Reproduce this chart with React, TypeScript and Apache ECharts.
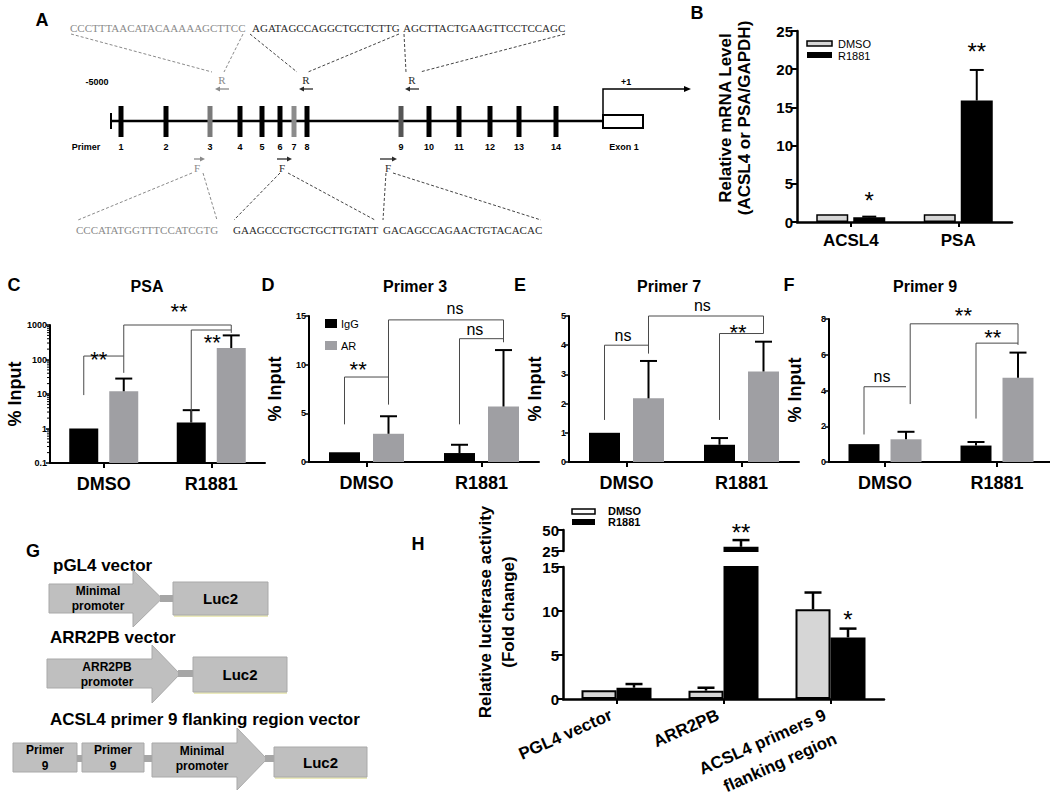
import React, { useEffect, useRef } from "react";
import * as echarts from "echarts";

const SANS = '"Liberation Sans", Arial, Helvetica, sans-serif';
const SERIF = '"Liberation Serif", "Times New Roman", serif';
const AR_GREY = "#9f9fa3";
const DMSO_GREY = "#d6d6d6";

// ---------------- Panel A (schematic) ----------------
const primerLabels = ["1", "2", "3", "4", "5", "6", "7", "8", "9", "10", "11", "12", "13", "14"];
const reverseSeqs = ["CCCTTTAACATACAAAAAGCTTCC", "AGATAGCCAGGCTGCTCTTG", "AGCTTACTGAAGTTCCTCCAGC"];
const forwardSeqs = ["CCCATATGGTTTCCATCGTG", "GAAGCCCTGCTGCTTGTATT", "GACAGCCAGAACTGTACACAC"];

// ---------------- Panel B ----------------
const bCategories = ["ACSL4", "PSA"];
const bDmso = [1.0, 1.0];
const bR1881 = [0.62, 15.9];
const bR1881Sd = [0.08, 4.0];
const bStarTexts = ["*", "**"];
const bStarY = [2.75, 22.3];

// ---------------- Panels C-F (ChIP) ----------------
const chipCategories = ["DMSO", "R1881"];
const cTickLabels = ["0.1", "1", "10", "100", "1000"];

const cIgG = [1.0, 1.5];
const cIgGSd = [0, 1.9];
const cAR = [12, 215];
const cARSd = [16, 285];

const dIgG = [1.0, 0.92];
const dIgGSd = [0, 0.85];
const dAR = [2.9, 5.7];
const dARSd = [1.8, 5.8];

const eIgG = [1.0, 0.59];
const eIgGSd = [0, 0.23];
const eAR = [2.18, 3.1];
const eARSd = [1.28, 1.02];

const fIgG = [1.0, 0.92];
const fIgGSd = [0, 0.2];
const fAR = [1.27, 4.72];
const fARSd = [0.42, 1.4];

// brackets: [catA, barA, footA, catB, barB, footB, top]
const cBrackets = [
  [0, 0, 9.3, 0, 1, 126, 126],
  [0, 1, 41, 1, 1, 590, 1000],
  [1, 0, 1.45, 1, 1, 716, 716],
];
const cMarks = [[0, 0.375, 100], [0.7, 0.5, 2450], [1, 0.525, 309]];
const cMarkTexts = ["**", "**", "**"];

const dBrackets = [
  [0, 0, 3.87, 0, 1, 5.92, 8.73],
  [0, 1, 5.92, 1, 1, 12.3, 14.6],
  [1, 0, 3.87, 1, 1, 12.67, 12.67],
];
const dMarks = [[0, 0.31, 9.5], [0.77, 0.5, 15.8], [1, 0.35, 13.6]];
const dMarkTexts = ["**", "ns", "ns"];

const eBrackets = [
  [0, 0, 1.44, 0, 1, 3.72, 4.0],
  [0, 1, 3.72, 1, 1, 4.4, 5.0],
  [1, 0, 1.44, 1, 1, 4.4, 4.4],
];
const eMarks = [[0, 0.42, 4.33], [0.66, 0.5, 5.36], [1, 0.42, 4.43]];
const eMarkTexts = ["ns", "ns", "**"];

const fBrackets = [
  [0, 0, 1.54, 0, 1, 4.21, 4.21],
  [0, 1.1, 3.24, 1, 1, 6.55, 7.73],
  [1, 0, 2.43, 1, 1, 6.65, 6.65],
];
const fMarks = [[0, 0.43, 4.8], [0.7, 0.5, 8.17], [1, 0.4, 6.99]];
const fMarkTexts = ["ns", "**", "**"];

// ---------------- Panel H ----------------
const hCategories = ["PGL4 vector", "ARR2PB", "ACSL4 primers 9\nflanking region"];
const hDmso = [1.0, 0.95, 10.2];
const hDmsoSd = [0, 0.33, 1.9];
const hR1881 = [1.28, 30, 7.0];
const hR1881Sd = [0.42, 8, 1.0];
const hLowerMarks = [[2, 1, 9.0]];
const hLowerMarkTexts = ["*"];
const hUpperMarks = [[1, 1, 46.9]];
const hUpperMarkTexts = ["**"];

// ---------------- helpers ----------------
function barSeries(ax: number, name: string, data: any[], color: string, w: number, gap: number, border = 0) {
  return {
    type: "bar",
    name,
    xAxisIndex: ax,
    yAxisIndex: ax,
    data,
    barWidth: w,
    barGap: `${(gap / w) * 100}%`,
    itemStyle: { color, borderColor: "#000", borderWidth: border },
    silent: true,
    z: 2,
  };
}

function errSeries(ax: number, items: number[][], w: number, gap: number, capW: number, lw: number) {
  return {
    type: "custom",
    xAxisIndex: ax,
    yAxisIndex: ax,
    silent: true,
    z: 3,
    encode: { x: 0, y: 2 },
    data: items,
    renderItem: (params: any, api: any) => {
      const c = api.value(0);
      const b = api.value(1);
      const p0 = api.coord([c, api.value(2)]);
      const p1 = api.coord([c, api.value(3)]);
      const x = p0[0] + (b - 0.5) * (w + gap);
      const st = { stroke: "#000", lineWidth: lw };
      return {
        type: "group",
        children: [
          { type: "line", shape: { x1: x, y1: p0[1], x2: x, y2: p1[1] }, style: st },
          { type: "line", shape: { x1: x - capW / 2, y1: p1[1], x2: x + capW / 2, y2: p1[1] }, style: st },
        ],
      };
    },
  };
}

function bracketSeries(ax: number, items: number[][], w: number, gap: number) {
  return {
    type: "custom",
    xAxisIndex: ax,
    yAxisIndex: ax,
    silent: true,
    z: 4,
    encode: { x: 0, y: 2 },
    data: items,
    renderItem: (params: any, api: any) => {
      const x0 = api.coord([0, 0])[0];
      const x1 = api.coord([1, 0])[0];
      const band = x1 - x0;
      const X = (c: number, b: number) => x0 + c * band + (b - 0.5) * (w + gap);
      const Y = (v: number) => api.coord([0, v])[1];
      const xa = X(api.value(0), api.value(1));
      const xb = X(api.value(3), api.value(4));
      const ya = Y(api.value(2));
      const yb = Y(api.value(5));
      const yt = Y(api.value(6));
      return {
        type: "polyline",
        shape: { points: [[xa, ya], [xa, yt], [xb, yt], [xb, yb]] },
        style: { stroke: "#4a4a4a", lineWidth: 1, fill: "none" },
      };
    },
  };
}

function markSeries(ax: number, items: number[][], texts: string[], w: number, gap: number, starSize: number) {
  return {
    type: "custom",
    xAxisIndex: ax,
    yAxisIndex: ax,
    silent: true,
    z: 5,
    encode: { x: 0, y: 2 },
    data: items,
    renderItem: (params: any, api: any) => {
      const x0 = api.coord([0, 0])[0];
      const x1 = api.coord([1, 0])[0];
      const band = x1 - x0;
      const x = x0 + api.value(0) * band + (api.value(1) - 0.5) * (w + gap);
      const y = api.coord([0, api.value(2)])[1];
      const text = texts[params.dataIndex];
      const star = text.indexOf("*") >= 0;
      return {
        type: "text",
        x,
        y,
        style: {
          text,
          fill: "#000",
          fontFamily: SANS,
          fontSize: star ? starSize : 16,
          fontWeight: "normal",
          align: "center",
          verticalAlign: "middle",
        },
      };
    },
  };
}

function logMinorTickSeries(ax: number, tf: (v: number) => number) {
  const vals: number[][] = [];
  [0.1, 1, 10, 100].forEach((dec) => {
    for (let m = 2; m <= 9; m++) vals.push([0, tf(m * dec)]);
  });
  return {
    type: "custom",
    xAxisIndex: ax,
    yAxisIndex: ax,
    silent: true,
    z: 3,
    data: vals,
    renderItem: (params: any, api: any) => {
      const y = api.coord([0, api.value(1)])[1];
      const gx = params.coordSys.x;
      return { type: "line", shape: { x1: gx - 3, y1: y, x2: gx, y2: y }, style: { stroke: "#000", lineWidth: 1 } };
    },
  };
}

function chipSeries(
  ax: number,
  igg: number[], iggSd: number[], ar: number[], arSd: number[],
  brackets: number[][], marks: number[][], markTexts: string[],
  w: number, gap: number, tf: (v: number) => number = (v) => v
) {
  const errs: number[][] = [];
  igg.forEach((v, i) => { if (iggSd[i] > 0) errs.push([i, 0, tf(v), tf(v + iggSd[i])]); });
  ar.forEach((v, i) => { if (arSd[i] > 0) errs.push([i, 1, tf(v), tf(v + arSd[i])]); });
  return [
    barSeries(ax, "IgG", igg.map(tf), "#000", w, gap),
    barSeries(ax, "AR", ar.map(tf), AR_GREY, w, gap),
    errSeries(ax, errs, w, gap, 17, 2),
    bracketSeries(ax, brackets.map((b) => [b[0], b[1], tf(b[2]), b[3], b[4], tf(b[5]), tf(b[6])]), w, gap),
    markSeries(ax, marks.map((m) => [m[0], m[1], tf(m[2])]), markTexts, w, gap, 22),
  ];
}

function catAxis(gi: number, data: any[], fontSize: number, margin: number, extra: any = {}) {
  return {
    type: "category",
    gridIndex: gi,
    data,
    axisLine: { show: true, onZero: false, lineStyle: { color: "#000", width: 2 } },
    axisTick: { show: true, alignWithLabel: true, length: 5, lineStyle: { color: "#000", width: 2 } },
    axisLabel: { color: "#000", fontFamily: SANS, fontWeight: "bold", fontSize, margin, interval: 0 },
    splitLine: { show: false },
    ...extra,
  };
}

function valAxis(gi: number, min: number, max: number, interval: number, fontSize: number, lw: number, extra: any = {}) {
  return {
    type: "value",
    gridIndex: gi,
    min,
    max,
    interval,
    axisLine: { show: true, lineStyle: { color: "#000", width: lw } },
    axisTick: { show: true, length: 4, lineStyle: { color: "#000", width: 1.5 } },
    axisLabel: { color: "#000", fontFamily: SANS, fontWeight: "bold", fontSize, margin: 3 },
    splitLine: { show: false },
    ...extra,
  };
}

// graphic primitives
const T = (x: number, y: number, text: string, o: any = {}) => ({
  type: "text",
  x,
  y,
  rotation: o.rot || 0,
  silent: true,
  style: {
    text,
    fill: o.fill || "#000",
    fontFamily: o.family || SANS,
    fontSize: o.size || 12,
    fontWeight: o.weight || "normal",
    align: o.align || "center",
    verticalAlign: "middle",
    lineHeight: o.lh,
  },
});
const L = (x1: number, y1: number, x2: number, y2: number, stroke = "#000", lw = 1, dash?: number[]) => ({
  type: "line",
  silent: true,
  shape: { x1, y1, x2, y2 },
  style: { stroke, lineWidth: lw, lineDash: dash },
});
const Rc = (x: number, y: number, w: number, h: number, fill: string, stroke?: string, lw = 0) => ({
  type: "rect",
  silent: true,
  shape: { x, y, width: w, height: h },
  style: { fill, stroke, lineWidth: lw },
});
const Pg = (points: number[][], fill: string, stroke?: string, lw = 0) => ({
  type: "polygon",
  silent: true,
  shape: { points },
  style: { fill, stroke, lineWidth: lw },
});
const smallArrow = (xFrom: number, xTo: number, y: number, color: string) => {
  const d = Math.sign(xTo - xFrom);
  return [
    L(xFrom, y, xTo - d * 3, y, color, 1.3),
    Pg([[xTo, y], [xTo - d * 5, y - 2.5], [xTo - d * 5, y + 2.5]], color),
  ];
};
const bigArrow = (x0: number, xh: number, xt: number, yTop: number, yBot: number, hTop: number, hBot: number) =>
  Pg(
    [[x0, yTop], [xh, yTop], [xh, hTop], [xt, (hTop + hBot) / 2], [xh, hBot], [xh, yBot], [x0, yBot]],
    "#bfbfbf",
    "#a9a9a9",
    1
  );
const lucBox = (x: number, y: number, w: number, h: number) => [
  L(x + 1, y + h + 1, x + w, y + h + 1, "#e4e3a6", 1.5),
  Rc(x, y, w, h, "#bfbfbf", "#a9a9a9", 1),
  T(x + w / 2, y + h / 2, "Luc2", { size: 15, weight: "bold" }),
];

function panelAGraphics() {
  const els: any[] = [];
  const primerX = [121, 166, 210, 240, 262, 280, 294, 307, 401, 429, 459, 490, 519, 556];
  const tones = ["#000", "#000", "#7a7a7a", "#000", "#000", "#000", "#8c8c8c", "#000", "#555", "#000", "#000", "#000", "#000", "#000"];
  const grey = "#8a8a8a";
  const dark = "#2a2a2a";
  els.push(T(42, 20, "A", { size: 18, weight: "bold" }));
  const topX = [70, 252, 403];
  const topC = [grey, dark, dark];
  reverseSeqs.forEach((s, i) => els.push(T(topX[i], 28, s, { family: SERIF, size: 11, align: "left", fill: topC[i] })));
  const dashT = [
    [71, 212, grey], [243, 224, grey],
    [250, 297, "#444"], [399, 308, "#444"],
    [404, 406, "#444"], [565, 420, "#444"],
  ];
  dashT.forEach((d: any) => els.push(L(d[0], 34, d[1], 72, d[2], 1, [3, 2])));
  const rX = [222, 306, 412];
  rX.forEach((x, i) => {
    els.push(T(x, 80, "R", { family: SERIF, size: 11, fill: i === 0 ? grey : dark }));
    els.push(...smallArrow(x + 7, x - 7, 89, i === 0 ? grey : dark));
  });
  els.push(T(97, 82, "-5000", { size: 9, weight: "bold" }));
  els.push(T(626, 82, "+1", { size: 9, weight: "bold" }));
  els.push(L(111, 121, 603, 121, "#000", 2.5));
  els.push(L(111, 113, 111, 129, "#000", 2));
  primerX.forEach((x, i) => {
    els.push(Rc(x - 2.5, 106, 5, 31, tones[i]));
    els.push(T(x, 147, primerLabels[i], { size: 9, weight: "bold" }));
  });
  els.push(T(86, 147, "Primer", { size: 9, weight: "bold" }));
  els.push(T(624, 147, "Exon 1", { size: 9, weight: "bold" }));
  els.push(Rc(603, 115, 40, 13, "#fff", "#000", 2));
  els.push({
    type: "polyline",
    silent: true,
    shape: { points: [[603, 115], [603, 89], [684, 89]] },
    style: { stroke: "#000", lineWidth: 1.5, fill: "none" },
  });
  els.push(Pg([[691, 89], [684, 86], [684, 92]], "#000"));
  const fArrows = [[194, 205], [277, 292], [380, 397]];
  const fX = [197, 282, 388];
  fArrows.forEach((a, i) => {
    els.push(...smallArrow(a[0], a[1], 159, i === 0 ? grey : dark));
    els.push(T(fX[i], 168, "F", { family: SERIF, size: 11, fill: i === 0 ? grey : dark }));
  });
  const dashB = [
    [192, 78, grey], [203, 217, grey],
    [280, 234, "#444"], [288, 375, "#444"],
    [386, 383, "#444"], [393, 541, "#444"],
  ];
  dashB.forEach((d: any) => els.push(L(d[0], 173, d[1], 220, d[2], 1, [3, 2])));
  const botX = [76, 233, 383];
  const botC = [grey, dark, dark];
  forwardSeqs.forEach((s, i) => els.push(T(botX[i], 230, s, { family: SERIF, size: 11, align: "left", fill: botC[i] })));
  return els;
}

function panelGGraphics() {
  const els: any[] = [];
  els.push(T(33, 551, "G", { size: 18, weight: "bold" }));
  els.push(T(53, 565, "pGL4 vector", { size: 17, weight: "bold", align: "left" }));
  els.push(bigArrow(49, 133, 162, 584, 613, 570, 627));
  els.push(T(98, 598, "Minimal\npromoter", { size: 12, weight: "bold", lh: 15 }));
  els.push(Rc(160, 595, 14, 7, "#a6a6a6"));
  els.push(...lucBox(173, 582, 95, 33));

  els.push(T(50, 637, "ARR2PB vector", { size: 17, weight: "bold", align: "left" }));
  els.push(bigArrow(47, 152, 180, 659, 688, 645, 703));
  els.push(T(107, 674, "ARR2PB\npromoter", { size: 12, weight: "bold", lh: 15 }));
  els.push(Rc(178, 670, 16, 7, "#a6a6a6"));
  els.push(...lucBox(193, 657, 94, 35));

  els.push(T(50, 719, "ACSL4 primer 9 flanking region vector", { size: 17, weight: "bold", align: "left" }));
  els.push(Rc(13, 743, 64, 29, "#bfbfbf", "#a9a9a9", 1));
  els.push(T(45, 758, "Primer\n9", { size: 12, weight: "bold", lh: 16 }));
  els.push(Rc(77, 755, 6, 7, "#a6a6a6"));
  els.push(Rc(82, 743, 62, 29, "#bfbfbf", "#a9a9a9", 1));
  els.push(T(113, 758, "Primer\n9", { size: 12, weight: "bold", lh: 16 }));
  els.push(Rc(144, 755, 9, 7, "#a6a6a6"));
  els.push(bigArrow(152, 237, 267, 743, 777, 728, 790));
  els.push(T(202, 758, "Minimal\npromoter", { size: 12, weight: "bold", lh: 15 }));
  els.push(Rc(265, 755, 10, 7, "#a6a6a6"));
  els.push(...lucBox(274, 747, 93, 30));
  return els;
}

function otherGraphics() {
  const els: any[] = [];
  // Panel B
  els.push(T(697, 13, "B", { size: 18, weight: "bold" }));
  els.push(T(725, 118, "Relative mRNA Level", { size: 17, weight: "bold", rot: Math.PI / 2 }));
  els.push(T(744, 118, "(ACSL4 or PSA/GAPDH)", { size: 17, weight: "bold", rot: Math.PI / 2 }));
  els.push(Rc(807, 41, 25, 5, DMSO_GREY, "#000", 1.5));
  els.push(Rc(807, 52, 25, 6, "#000"));
  els.push(T(838, 44, "DMSO", { size: 11, align: "left" }));
  els.push(T(838, 56, "R1881", { size: 11, align: "left" }));
  // Panels C-F letters, titles and y titles
  els.push(T(14, 285, "C", { size: 18, weight: "bold" }));
  els.push(T(147, 286, "PSA", { size: 16, weight: "bold" }));
  els.push(T(15, 394, "% Input", { size: 18, weight: "bold", rot: Math.PI / 2 }));
  els.push(T(268, 285, "D", { size: 18, weight: "bold" }));
  els.push(T(415, 286, "Primer 3", { size: 16, weight: "bold" }));
  els.push(T(275, 389, "% Input", { size: 18, weight: "bold", rot: Math.PI / 2 }));
  els.push(Rc(325, 319, 12, 9, "#000"));
  els.push(Rc(325, 341, 12, 9, AR_GREY));
  els.push(T(341, 324, "IgG", { size: 11, align: "left" }));
  els.push(T(341, 346, "AR", { size: 11, align: "left" }));
  els.push(T(520, 285, "E", { size: 18, weight: "bold" }));
  els.push(T(669, 286, "Primer 7", { size: 16, weight: "bold" }));
  els.push(T(535, 389, "% Input", { size: 18, weight: "bold", rot: Math.PI / 2 }));
  els.push(T(789, 285, "F", { size: 18, weight: "bold" }));
  els.push(T(925, 286, "Primer 9", { size: 16, weight: "bold" }));
  els.push(T(795, 390, "% Input", { size: 18, weight: "bold", rot: Math.PI / 2 }));
  // Panel H
  els.push(T(418, 544, "H", { size: 18, weight: "bold" }));
  els.push(T(485, 612, "Relative luciferase activity", { size: 17, weight: "bold", rot: Math.PI / 2 }));
  els.push(T(508, 612, "(Fold change)", { size: 17, weight: "bold", rot: Math.PI / 2 }));
  els.push(Rc(572, 509, 23, 5, "#fff", "#000", 1.5));
  els.push(Rc(572, 519, 23, 6, "#000"));
  els.push(T(608, 511, "DMSO", { size: 11, weight: "bold", align: "left" }));
  els.push(T(608, 522, "R1881", { size: 11, weight: "bold", align: "left" }));
  return els;
}

function buildOption(): any {
  const grids = [
    { left: 797, top: 31, width: 215, height: 191 }, // 0 B
    { left: 50, top: 325, width: 215, height: 138 }, // 1 C
    { left: 309, top: 316, width: 230, height: 146 }, // 2 D
    { left: 569, top: 316, width: 230, height: 146 }, // 3 E
    { left: 829, top: 319, width: 224, height: 143 }, // 4 F
    { left: 563, top: 567, width: 321, height: 132 }, // 5 H lower
    { left: 563, top: 530, width: 321, height: 21 }, // 6 H upper
  ].map((g) => ({ ...g, containLabel: false, outerBoundsMode: "none" }));

  const logT = (v: number) => Math.log10(v) + 1;

  const xAxis = [
    catAxis(0, bCategories, 17, 10, { axisLine: { show: true, onZero: false, lineStyle: { color: "#000", width: 2.5 } } }),
    catAxis(1, chipCategories, 18, 12),
    catAxis(2, chipCategories, 18, 12),
    catAxis(3, chipCategories, 18, 12),
    catAxis(4, chipCategories, 18, 12),
    {
      ...catAxis(5, hCategories, 17, 10, { axisLine: { show: true, onZero: false, lineStyle: { color: "#000", width: 2.5 } } }),
      axisLabel: {
        color: "#000", fontFamily: SANS, fontWeight: "bold", fontSize: 17, margin: 27, interval: 0,
        rotate: 24, lineHeight: 26,
        // every label is laid out as two lines so all first lines start at the same place
        formatter: (v: string) => (v.indexOf("\n") >= 0 ? v : v + "\n "),
      },
    },
    { type: "category", gridIndex: 6, data: hCategories, show: false },
  ];

  const bigLbl = { color: "#000", fontFamily: SANS, fontWeight: "bold", fontSize: 15, margin: 4 };
  const bigTick = { show: true, length: 6, lineStyle: { color: "#000", width: 2 } };
  const yAxis = [
    valAxis(0, 0, 25, 5, 15, 2.5, { axisTick: bigTick, axisLabel: bigLbl }),
    valAxis(1, 0, 4, 1, 9, 2, {
      axisLabel: { color: "#000", fontFamily: SANS, fontWeight: "bold", fontSize: 9, margin: 3, formatter: (v: number) => cTickLabels[Math.round(v)] ?? "" },
    }),
    valAxis(2, 0, 15, 5, 9, 2),
    valAxis(3, 0, 5, 1, 9, 2),
    valAxis(4, 0, 8, 2, 9, 2),
    valAxis(5, 0, 15, 5, 15, 2.5, { axisTick: bigTick, axisLabel: bigLbl }),
    valAxis(6, 25, 50, 25, 15, 2.5, { axisTick: bigTick, axisLabel: bigLbl }),
  ];

  const series: any[] = [];
  // B
  const bW = 32, bGap = 5;
  series.push(barSeries(0, "DMSO", bDmso, DMSO_GREY, bW, bGap, 1.5));
  series.push(barSeries(0, "R1881", bR1881, "#000", bW, bGap, 1.5));
  series.push(errSeries(0, bR1881.map((v, i) => [i, 1, v, v + bR1881Sd[i]]), bW, bGap, 14, 2));
  series.push(markSeries(0, bStarY.map((y, i) => [i, 1, y]), bStarTexts, bW, bGap, 24));

  // C (log)
  series.push(...chipSeries(1, cIgG, cIgGSd, cAR, cARSd, cBrackets, cMarks, cMarkTexts, 29, 11, logT));
  series.push(logMinorTickSeries(1, logT));
  // D, E, F
  series.push(...chipSeries(2, dIgG, dIgGSd, dAR, dARSd, dBrackets, dMarks, dMarkTexts, 31, 13));
  series.push(...chipSeries(3, eIgG, eIgGSd, eAR, eARSd, eBrackets, eMarks, eMarkTexts, 31, 13));
  series.push(...chipSeries(4, fIgG, fIgGSd, fAR, fARSd, fBrackets, fMarks, fMarkTexts, 31, 11));

  // H (broken axis)
  const hW = 35, hGap = 0;
  const lowerMax = 15, upperMin = 25;
  series.push(barSeries(5, "DMSO", hDmso, DMSO_GREY, hW, hGap, 2));
  series.push(barSeries(5, "R1881", hR1881, "#000", hW, hGap, 2));
  series.push(barSeries(6, "DMSO", hDmso.map((v) => (v >= upperMin ? v : "-")), DMSO_GREY, hW, hGap, 2));
  series.push(barSeries(6, "R1881", hR1881.map((v) => (v >= upperMin ? v : "-")), "#000", hW, hGap, 2));
  const lowErr: number[][] = [];
  const upErr: number[][] = [];
  hDmso.forEach((v, i) => {
    if (hDmsoSd[i] <= 0) return;
    if (v + hDmsoSd[i] <= lowerMax) lowErr.push([i, 0, v, v + hDmsoSd[i]]);
    else if (v >= upperMin) upErr.push([i, 0, v, v + hDmsoSd[i]]);
  });
  hR1881.forEach((v, i) => {
    if (hR1881Sd[i] <= 0) return;
    if (v + hR1881Sd[i] <= lowerMax) lowErr.push([i, 1, v, v + hR1881Sd[i]]);
    else if (v >= upperMin) upErr.push([i, 1, v, v + hR1881Sd[i]]);
  });
  series.push(errSeries(5, lowErr, hW, hGap, 17, 2.5));
  series.push(errSeries(6, upErr, hW, hGap, 17, 2.5));
  series.push(markSeries(5, hLowerMarks, hLowerMarkTexts, hW, hGap, 24));
  series.push(markSeries(6, hUpperMarks, hUpperMarkTexts, hW, hGap, 24));

  return {
    animation: false,
    backgroundColor: "#fff",
    textStyle: { fontFamily: SANS },
    grid: grids,
    xAxis,
    yAxis,
    series,
    graphic: { elements: [...panelAGraphics(), ...panelGGraphics(), ...otherGraphics()] },
  };
}

export default function App() {
  const ref = useRef<HTMLDivElement>(null);
  useEffect(() => {
    document.body.style.margin = "0";
    const chart = echarts.init(ref.current as HTMLDivElement, undefined, { renderer: "svg" });
    chart.setOption(buildOption());
    return () => chart.dispose();
  }, []);
  return <div ref={ref} style={{ width: 1050, height: 804 }} />;
}
